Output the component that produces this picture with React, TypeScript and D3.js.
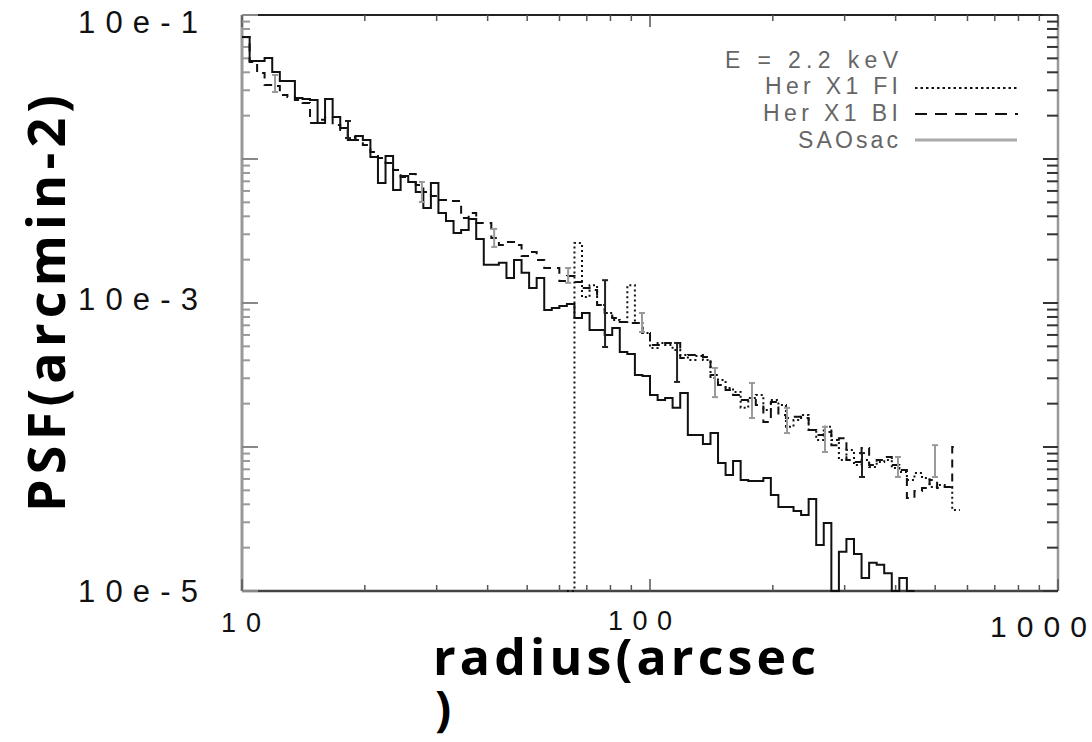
import React from 'react';
import * as d3 from 'd3';

// Bin edges in radius (arcsec), log-spaced histogram bins
const binEdges = [
  10.00, 10.44, 10.89, 11.36, 11.86, 12.38, 12.92, 13.48, 14.07, 14.68,
  15.32, 15.98, 16.68, 17.41, 18.17, 18.96, 19.78, 20.64, 21.54, 22.48,
  23.46, 24.48, 25.55, 26.66, 27.83, 29.04, 30.30, 31.62, 33.00, 34.44,
  35.94, 37.50, 39.14, 40.84, 42.62, 44.48, 46.42, 48.44, 50.55, 52.75,
  55.05, 57.45, 59.95, 62.56, 65.29, 68.13, 71.10, 74.19, 77.43, 80.80,
  84.32, 87.99, 91.83, 95.83,
  100.0, 104.4, 108.9, 113.6, 118.6, 123.8, 129.2, 134.8, 140.7, 146.8,
  153.2, 159.8, 166.8, 174.1, 181.7, 189.6, 197.8, 206.4, 215.4, 224.8,
  234.6, 244.8, 255.5, 266.6, 278.3, 290.4, 303.0, 316.2, 330.0, 344.4,
  359.4, 375.0, 391.4, 408.4, 426.2, 444.8, 464.2, 484.4, 505.5, 527.5,
  550.5, 574.5,
];

// SAOsac (solid) PSF per bin, starting at bin 0
const saosac = [
  0.0703, 0.0479, 0.0479, 0.0503, 0.0402, 0.0348, 0.0348, 0.0265, 0.0261, 0.0257,
  0.0178, 0.0261, 0.0196, 0.0164, 0.01355, 0.01444, 0.01355, 0.01032, 0.00681, 0.01049,
  0.00609, 0.00762, 0.00692, 0.00590, 0.00457, 0.00681, 0.00422, 0.00371, 0.00306, 0.00321,
  0.00383, 0.00278, 0.00184, 0.00184, 0.00190, 0.00149, 0.00199, 0.00162, 0.00127, 0.00149,
  0.000894, 0.000923, 0.000953, 0.000984, 0.000787, 0.000852, 0.000649, 0.000649, 0.000599, 0.000671,
  0.000457, 0.000442, 0.000316, 0.000311, 0.000230, 0.000212, 0.000219, 0.000187, 0.000237, 0.000121,
  0.000121, 0.000105, 0.000125, 0.0000774, 0.0000639, 0.0000799, 0.0000590, 0.0000581, 0.0000581, 0.0000609,
  0.0000464, 0.0000383, 0.0000383, 0.0000359, 0.0000337, 0.0000435, 0.0000209, 0.0000297, 0, 0.0000187,
  0.0000230, 0.0000181, 0.0000123, 0.0000157, 0.0000152, 0.0000133, 0, 0.0000123, 0,
];
const saosacStart = 0;

// Her X1 BI (dashed), starting at bin 0
const herBI = [
  0.0703, 0.0472, 0.0396, 0.0327, 0.0321, 0.0278, 0.0269, 0.0257, 0.0245, 0.0178,
  0.0187, 0.0196, 0.0172, 0.0159, 0.0142, 0.01355, 0.0125, 0.01118, 0.01016, 0.00938,
  0.00839, 0.00750, 0.00787, 0.00660, 0.00590, 0.00553, 0.00519, 0.00511, 0.00511, 0.00389,
  0.00422, 0.00359, 0.00359, 0.00283, 0.00253, 0.00265, 0.00253, 0.00212, 0.00226, 0.00199,
  0.00175, 0.00175, 0.00142, 0.00154, 0.00140, 0.00127, 0.00123, 0.000968, 0.000852, 0.000787,
  0.000738, 0.000726, 0.000726, 0.000619, 0.000511, 0.000511, 0.000528, 0.000528, 0.000415, 0.000435,
  0.000435, 0.000422, 0.000316, 0.000269, 0.000249, 0.000230, 0.000212, 0.000212, 0.000196, 0.000149,
  0.000205, 0.000167, 0.000159, 0.000162, 0.000159, 0.000131, 0.000121, 0.000127, 0.000103, 0.000115,
  0.0000812, 0.0000787, 0.0000984, 0.0000750, 0.0000812, 0.0000852, 0.0000750, 0.0000692, 0.0000442, 0.0000495,
  0.0000519, 0.0000590, 0.0000519, 0.0000527, 0.000100,
];
const herBIStart = 0;

// Her X1 FI (dotted), starting at bin 43
const herFI = [
  0, 0.00261, 0.00110, 0.00133, 0.000968, 0.000852, 0.000762, 0.000738, 0.00133, 0.000726,
  0.000619, 0.000487, 0.000528, 0.000511, 0.000472, 0.000435, 0.000402, 0.000428, 0.000402, 0.000301,
  0.000292, 0.000257, 0.000241, 0.000187, 0.000219, 0.000230, 0.000181, 0.000212, 0.000196, 0.000138,
  0.000154, 0.000167, 0.000131, 0.000112, 0.000138, 0.000112, 0.0000812, 0.0000953, 0.0000750, 0.0000812,
  0.0000726, 0.0000787, 0.0000812, 0.0000715, 0.0000671, 0.0000590, 0.0000660, 0.0000609, 0.0000527, 0.0000544,
  0.0000527, 0.0000365,
];
const herFIStart = 43;

// Error bars
const errR = [12.05, 18.19, 27.6, 41.5, 63.0, 77.6, 95.6, 116.5, 144.3, 177.8, 216.7, 268.5, 330.8, 405.4, 499.5];
const errHi = [0.0383, 0.01836, 0.00692, 0.00327, 0.00175, 0.00144, 0.000852, 0.000528, 0.000354, 0.000278, 0.000187, 0.000138, 0.0000908, 0.0000852, 0.000103];
const errLo = [0.0292, 0.01399, 0.00503, 0.00245, 0.00138, 0.000495, 0.000629, 0.000283, 0.000222, 0.000159, 0.000125, 0.0000923, 0.0000619, 0.0000619, 0.0000619];
const errSet = ['a', 'b', 'a', 'a', 'a', 'b', 'a', 'b', 'a', 'a', 'a', 'a', 'b', 'a', 'a'];

// Tick labels
const xTickValues = [10, 100, 1000];
const xTickLabels = ['10', '100', '1000'];
const yTickValues = [1e-1, 1e-3, 1e-5];
const yTickLabels = ['10e-1', '10e-3', '10e-5'];

const legendTitle = 'E = 2.2 keV';
const legendNames = ['Her X1 FI', 'Her X1 BI', 'SAOsac'];

const M = { left: 242, right: 1058, top: 15, bottom: 591 };

export default function App() {
  const x = d3.scaleLog().domain([10, 1000]).range([M.left, M.right]);
  const y = d3.scaleLog().domain([1e-5, 1e-1]).range([M.bottom, M.top]).clamp(true);
  const yv = (v: number) => y(v > 0 ? v : 1e-5);

  const stepPath = (vals: number[], start: number) => {
    const pts: [number, number][] = [];
    vals.forEach((v, i) => {
      const b = start + i;
      pts.push([binEdges[b], v], [binEdges[b + 1], v]);
    });
    return d3.line<[number, number]>().x(d => x(d[0])).y(d => yv(d[1]))(pts) || '';
  };

  const xt = x.ticks();
  const yt = y.ticks();
  const isMajor = (v: number) => Math.abs(Math.log10(v) - Math.round(Math.log10(v))) < 1e-6;

  const labelFont = 'Liberation Sans, Arial, sans-serif';
  const titleFont = 'Open Sans, Noto Sans, sans-serif';

  const xLabelPos = [
    { dx: -21, w: 40, base: 632, fs: 27 },
    { dx: -42, w: 64, base: 630, fs: 27 },
    { dx: -68, w: 97, base: 637, fs: 30 },
  ];
  const yLabelPos = [
    { base: 33 }, { base: 310 }, { base: 602 },
  ];
  const legendTextX = 898;
  const legendLens = [133, 135, 100];
  const legendBase = [94, 121, 148];

  return (
    <svg width={1092} height={742} style={{ position: 'absolute', left: 0, top: 0, background: '#fff' }}>
      <rect x={0} y={0} width={1092} height={742} fill="#fff" />
      {/* frame */}
      <line x1={M.left} x2={M.right} y1={M.top} y2={M.top} stroke="#222" strokeWidth={2} />
      <line x1={M.left} x2={M.right} y1={M.bottom} y2={M.bottom} stroke="#444" strokeWidth={2.5} />
      <line x1={M.left} x2={M.left} y1={M.top} y2={M.bottom} stroke="#999" strokeWidth={3} />
      <line x1={M.right} x2={M.right} y1={M.top} y2={M.bottom} stroke="#999" strokeWidth={2.5} />
      {/* x ticks */}
      {xt.map((v, i) => {
        const len = isMajor(v) ? 12 : 6;
        return (
          <g key={'xt' + i}>
            <line x1={x(v)} x2={x(v)} y1={M.bottom} y2={M.bottom - len} stroke="#555" strokeWidth={1.5} />
            <line x1={x(v)} x2={x(v)} y1={M.top} y2={M.top + len} stroke="#555" strokeWidth={1.5} />
          </g>
        );
      })}
      {/* y ticks */}
      {yt.map((v, i) => {
        const major = isMajor(v);
        return (
          <g key={'yt' + i}>
            <line x1={M.left} x2={M.left + (major ? 16 : 8)} y1={y(v)} y2={y(v)} stroke={major ? '#888' : '#999'} strokeWidth={2} />
            <line x1={M.right} x2={M.right - (major ? 15 : 11)} y1={y(v)} y2={y(v)} stroke="#333" strokeWidth={2} />
          </g>
        );
      })}
      {/* data */}
      <path d={stepPath(herFI, herFIStart)} fill="none" stroke="#111" strokeWidth={2} strokeDasharray="2,3" />
      <path d={stepPath(herBI, herBIStart)} fill="none" stroke="#111" strokeWidth={2} strokeDasharray="8,6" />
      <path d={stepPath(saosac, saosacStart)} fill="none" stroke="#111" strokeWidth={2} />
      {errR.map((r, i) => {
        const c = errSet[i] === 'b' ? '#222' : '#9a9a9a';
        const cx = x(r);
        return (
          <g key={'e' + i} stroke={c} strokeWidth={2}>
            <line x1={cx} x2={cx} y1={y(errHi[i])} y2={y(errLo[i])} />
            <line x1={cx - 3} x2={cx + 3} y1={y(errHi[i])} y2={y(errHi[i])} />
            <line x1={cx - 3} x2={cx + 3} y1={y(errLo[i])} y2={y(errLo[i])} />
          </g>
        );
      })}
      {/* legend */}
      <text x={725} y={68} fontFamily={labelFont} fontSize={23} fill="#666" textLength={173} lengthAdjust="spacing">{legendTitle}</text>
      {legendNames.map((n, i) => (
        <text key={'ln' + i} x={legendTextX - legendLens[i]} y={legendBase[i]} fontFamily={labelFont} fontSize={23} fill="#666" textLength={legendLens[i]} lengthAdjust="spacing">{n}</text>
      ))}
      <line x1={915} x2={1017} y1={88} y2={88} stroke="#111" strokeWidth={2} strokeDasharray="2.5,3" />
      <line x1={915} x2={1018} y1={114} y2={114} stroke="#111" strokeWidth={2} strokeDasharray="12,8" />
      <line x1={915} x2={1017} y1={140} y2={140} stroke="#aaa" strokeWidth={3} />
      {/* tick labels */}
      {xTickValues.map((v, i) => (
        <text key={'xl' + i} x={x(v) + xLabelPos[i].dx} y={xLabelPos[i].base} fontFamily={labelFont} fontSize={xLabelPos[i].fs} fill="#111" textLength={xLabelPos[i].w} lengthAdjust="spacing">{xTickLabels[i]}</text>
      ))}
      {yTickValues.map((v, i) => (
        <text key={'yl' + i} x={78} y={yLabelPos[i].base} fontFamily={labelFont} fontSize={31} fill="#111" textLength={120} lengthAdjust="spacing">{yTickLabels[i]}</text>
      ))}
      {/* axis titles */}
      <text transform="rotate(-90)" x={-512} y={65} fontFamily={titleFont} fontWeight={700} fontSize={52} fill="#000" textLength={417} lengthAdjust="spacing">PSF(arcmin-2)</text>
      <text x={433} y={675} fontFamily={titleFont} fontWeight={700} fontSize={50} fill="#000" textLength={383} lengthAdjust="spacing">radius(arcsec</text>
      <text x={435} y={726} fontFamily={titleFont} fontWeight={700} fontSize={48} fill="#000">)</text>
    </svg>
  );
}
